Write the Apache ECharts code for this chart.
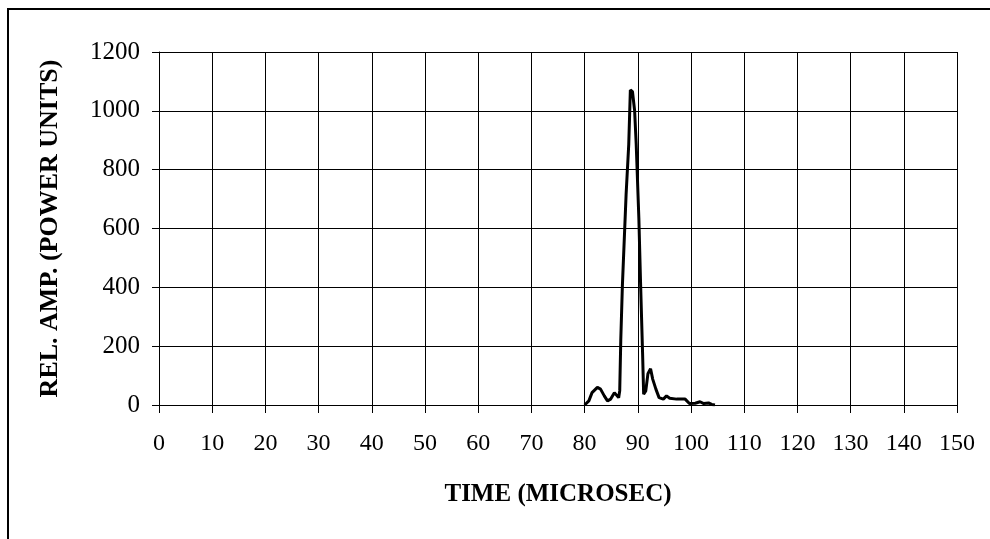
<!DOCTYPE html>
<html>
<head>
<meta charset="utf-8">
<title>REL. AMP.</title>
<script src="https://cdn.jsdelivr.net/npm/echarts@6/dist/echarts.min.js"></script>
<style>
  html, body { margin: 0; padding: 0; background: #fff; }
  #chart { width: 990px; height: 539px; }
</style>
</head>
<body>
<div id="chart"></div>
<script>
// time (microsec) and relative amplitude
var times = [80, 80.8, 81.4, 82.4, 83, 83.7, 84.3, 84.9, 85.6, 85.9, 86.4, 86.6, 86.8, 87.1, 87.8, 88.3, 88.6, 89.0, 89.4, 89.7, 90.2, 90.5, 90.9, 91.1, 91.5, 91.9, 92.4, 92.8, 93.4, 94.0, 94.8, 95.4, 96.0, 97.3, 98.9, 99.7, 100.8, 101.7, 102.4, 103.3, 103.9, 104.5];
var amps = [0, 14, 42, 60, 54, 31, 14, 20, 42, 46, 25, 48, 220, 404, 715, 887, 1071, 1065, 1001, 887, 634, 427, 175, 37, 48, 106, 123, 88, 54, 25, 20, 31, 23, 20, 20, 5, 6, 11, 5, 7, 2, 0];

var serif = '"Liberation Serif", "DejaVu Serif", serif';
var points = [];
for (var i = 0; i < times.length; i++) {
  points.push([times[i], amps[i]]);
}

var chart = echarts.init(document.getElementById('chart'));
chart.setOption({
  animation: false,
  backgroundColor: '#fff',
  graphic: [{
    type: 'rect',
    shape: { x: 8, y: 9, width: 1000, height: 600 },
    style: { fill: 'none', stroke: '#000', lineWidth: 2 }
  }],
  grid: { left: 159, right: 33, top: 52, bottom: 134 },
  xAxis: {
    type: 'value',
    min: 0, max: 150, interval: 10,
    name: 'TIME (MICROSEC)',
    nameLocation: 'middle',
    nameGap: 77,
    nameTextStyle: { fontFamily: serif, fontSize: 25, fontWeight: 'bold', color: '#000' },
    axisLine: { lineStyle: { color: '#000', width: 1 } },
    axisTick: { show: true, length: 8, lineStyle: { color: '#000' } },
    axisLabel: { fontFamily: serif, fontSize: 24, color: '#000', margin: 27 },
    splitLine: { show: true, lineStyle: { color: '#000', width: 1 } }
  },
  yAxis: {
    type: 'value',
    min: 0, max: 1200, interval: 200,
    name: 'REL. AMP. (POWER UNITS)',
    nameLocation: 'middle',
    nameGap: 96,
    nameTextStyle: { fontFamily: serif, fontSize: 26, fontWeight: 'bold', color: '#000' },
    axisLine: { show: true, lineStyle: { color: '#000', width: 1 } },
    axisTick: { show: true, length: 7, lineStyle: { color: '#000' } },
    axisLabel: {
      fontFamily: serif, fontSize: 25, color: '#000', margin: 19,
      formatter: function (v) { return String(v); }
    },
    splitLine: { show: true, lineStyle: { color: '#000', width: 1.2 } }
  },
  series: [{
    type: 'line',
    data: points,
    showSymbol: false,
    lineStyle: { color: '#000', width: 3 }
  }]
});
</script>
</body>
</html>
